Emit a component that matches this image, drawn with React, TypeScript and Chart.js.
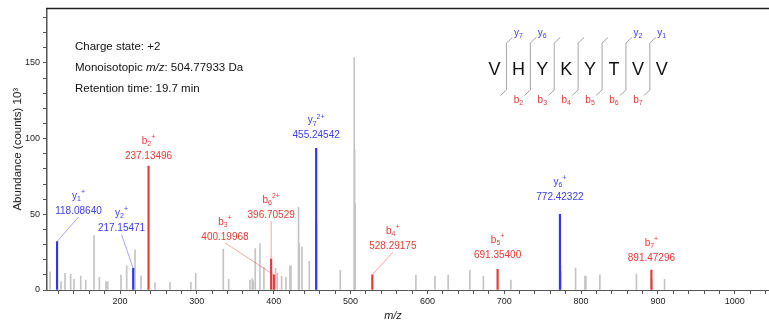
import React, { useEffect, useRef } from 'react';
import { Chart, registerables } from 'chart.js';

Chart.register(...registerables);

// ---------- DATA ----------
const greyMz = [
  109, 123.3, 128.4, 135.8, 140.2, 148.9, 155.4, 166.2, 173.1, 181.8, 184,
  201.3, 208.7, 219.5, 227.3, 245.5, 265, 292.2, 298.5, 334.4, 341.4, 369.1,
  372.1, 373.4, 376, 382.1, 387.3, 402.5, 404.7, 410.3, 415.9, 421.1, 422.4,
  432.3, 433.3, 436.8, 446.3, 455.75, 486.6, 504.78, 505.28, 505.78, 585,
  609.8, 627, 655.3, 672.8, 708.6, 773.3, 773.8, 792.8, 805, 806.2, 824.4,
  872, 892, 908.6,
];
const greyAbundance = [
  12, 5.5, 11, 10.5, 7, 9.2, 6.6, 36, 8.3, 5.5, 5.5,
  9.9, 16, 26.3, 9.4, 4.8, 5, 5, 11, 27, 7.2, 6.6,
  7.5, 6, 27.4, 30.7, 15, 14.3, 11, 9, 8.3, 16, 16,
  54.6, 30.7, 28.3, 19, 44, 13, 153.5, 93, 57, 9.9,
  9.2, 9.9, 13, 9, 6.6, 16.4, 12, 14.5, 9.2, 9, 10,
  10.5, 7, 7,
];

const bIonMz = [237.13496, 396.70529, 400.19968, 528.29175, 691.354, 891.47296];
const bIonAbundance = [81.8, 20.5, 10, 10, 13.6, 13.2];
const bIonIndex = ['2', '6', '3', '4', '5', '7'];
const bIonCharge = ['+', '2+', '+', '+', '+', '+'];

const yIonMz = [118.0864, 217.15471, 455.24542, 772.42322];
const yIonAbundance = [32, 14.3, 93.6, 50];
const yIonIndex = ['1', '2', '7', '6'];
const yIonCharge = ['+', '+', '2+', '+'];

const xTickStep = 20;
const xLabelStep = 100;
const yTickStep = 10;
const yLabelStep = 50;

const peptide = ['V', 'H', 'Y', 'K', 'Y', 'T', 'V', 'V'];
const observedY = [7, 6, 2, 1];
const observedB = [2, 3, 4, 5, 6, 7];

const infoLines = ['Charge state: +2', 'Monoisotopic |m/z|: 504.77933 Da', 'Retention time: 19.7 min'];

// ---------- LAYOUT (label anchors in data units, leader flags) ----------
const bLabelAt: [number, number][] = [[237.13, 88.4], [396.7, 49.3], [336.6, 35.1], [555, 28.9], [691.35, 23], [891.47, 21]];
const bLeader = [false, true, true, true, false, false];
const yLabelAt: [number, number][] = [[146.0, 52.2], [202, 40.6], [455.25, 102], [772.42, 61.2]];
const yLeader = [true, true, false, false];

const RED = '#e53b36';
const RED_LINE = '#e33a33';
const BLUE = '#3d3df2';
const BLUE_LINE = '#3434f0';
const GREY = '#c4c4c4';
const FONT = "'Liberation Sans', Arial, Helvetica, sans-serif";

function drawIonLabel(
  ctx: CanvasRenderingContext2D,
  cx: number,
  cy: number,
  base: string,
  sub: string,
  sup: string,
  value: string,
  color: string
) {
  ctx.save();
  ctx.fillStyle = color;
  ctx.textBaseline = 'middle';
  const f1 = `10px ${FONT}`;
  const f2 = `7px ${FONT}`;
  ctx.font = f1;
  const wb = ctx.measureText(base).width;
  ctx.font = f2;
  const ws = ctx.measureText(sub).width;
  const wp = ctx.measureText(sup).width;
  const total = wb + ws + wp;
  let x = cx - total / 2;
  const ny = cy - 15;
  ctx.textAlign = 'left';
  ctx.font = f1;
  ctx.fillText(base, x, ny);
  x += wb;
  ctx.font = f2;
  ctx.fillText(sub, x, ny + 3);
  x += ws;
  ctx.fillText(sup, x, ny - 4);
  ctx.font = f1;
  ctx.textAlign = 'center';
  ctx.fillText(value, cx, cy);
  ctx.restore();
}

const overlayPlugin = {
  id: 'overlay',
  afterDraw(chart: any) {
    const { ctx, chartArea, scales } = chart;
    const xs = scales.x;
    const ys = scales.y;

    ctx.save();
    // top border
    ctx.strokeStyle = '#222';
    ctx.lineWidth = 1.5;
    ctx.beginPath();
    ctx.moveTo(chartArea.left - 1, chartArea.top);
    ctx.lineTo(chartArea.right, chartArea.top);
    ctx.stroke();

    // info text
    ctx.fillStyle = '#111';
    ctx.textBaseline = 'middle';
    ctx.textAlign = 'left';
    infoLines.forEach((line, i) => {
      const parts = line.split('|');
      let x = 75;
      const y = 47 + i * 21;
      parts.forEach((p, k) => {
        ctx.font = (k % 2 === 1 ? 'italic ' : '') + `11.5px ${FONT}`;
        ctx.fillText(p, x, y);
        x += ctx.measureText(p).width;
      });
    });

    // peptide diagram
    const px0 = 494.5;
    const pdx = 23.9;
    const py = 69;
    ctx.font = `18px ${FONT}`;
    ctx.textAlign = 'center';
    ctx.fillStyle = '#111';
    peptide.forEach((aa, i) => {
      ctx.fillText(aa, px0 + i * pdx, py + 1);
    });
    ctx.strokeStyle = '#9a9a9a';
    ctx.lineWidth = 0.9;
    for (let i = 0; i < peptide.length - 1; i++) {
      const sx = px0 + (i + 0.5) * pdx;
      ctx.beginPath();
      ctx.moveTo(sx + 6, 37.5);
      ctx.lineTo(sx, 43);
      ctx.lineTo(sx, 90);
      ctx.lineTo(sx - 6, 95.5);
      ctx.stroke();
    }
    const drawFrag = (base: string, n: string, cx: number, cy: number, color: string) => {
      ctx.fillStyle = color;
      ctx.font = `10px ${FONT}`;
      const wb = ctx.measureText(base).width;
      ctx.font = `7px ${FONT}`;
      const wn = ctx.measureText(n).width;
      let x = cx - (wb + wn) / 2;
      ctx.textAlign = 'left';
      ctx.font = `10px ${FONT}`;
      ctx.fillText(base, x, cy);
      ctx.font = `7px ${FONT}`;
      ctx.fillText(n, x + wb, cy + 3);
    };
    observedY.forEach((n) => {
      const j = peptide.length - n;
      drawFrag('y', String(n), px0 + j * pdx, 33, BLUE);
    });
    observedB.forEach((n) => {
      const j = n - 1;
      drawFrag('b', String(n), px0 + j * pdx, 100.5, RED);
    });

    // ion labels
    const doLabels = (
      mzs: number[], ab: number[], idx: string[], ch: string[], at: [number, number][],
      lead: boolean[], base: string, color: string, lcolor: string
    ) => {
      mzs.forEach((mz, i) => {
        const cx = xs.getPixelForValue(at[i][0]);
        const cy = ys.getPixelForValue(at[i][1]);
        if (lead[i]) {
          ctx.save();
          ctx.strokeStyle = lcolor;
          ctx.lineWidth = 0.7;
          ctx.beginPath();
          ctx.moveTo(cx, cy + 6);
          ctx.lineTo(xs.getPixelForValue(mz), ys.getPixelForValue(ab[i]));
          ctx.stroke();
          ctx.restore();
        }
        drawIonLabel(ctx, cx, cy, base, idx[i], ch[i], mz.toFixed(5), color);
      });
    };
    doLabels(bIonMz, bIonAbundance, bIonIndex, bIonCharge, bLabelAt, bLeader, 'b', RED, 'rgba(229,59,54,0.65)');
    doLabels(yIonMz, yIonAbundance, yIonIndex, yIonCharge, yLabelAt, yLeader, 'y', BLUE, 'rgba(61,61,242,0.65)');

    // axis titles
    ctx.fillStyle = '#222';
    ctx.textAlign = 'center';
    ctx.textBaseline = 'middle';
    ctx.font = `italic 11px ${FONT}`;
    ctx.fillText('m/z', 393, 316);
    ctx.save();
    ctx.translate(18, (chartArea.top + chartArea.bottom) / 2);
    ctx.rotate(-Math.PI / 2);
    ctx.font = `11.5px ${FONT}`;
    ctx.fillText('Abundance (counts) 10³', 0, 0);
    ctx.restore();

    ctx.restore();
  },
};

export default function App() {
  const ref = useRef<HTMLCanvasElement | null>(null);

  useEffect(() => {
    document.body.style.margin = '0';
    if (!ref.current) return;
    const toXY = (xs: number[], ys: number[]) => xs.map((x, i) => ({ x, y: ys[i] }));
    const chart = new Chart(ref.current, {
      type: 'bar',
      data: {
        datasets: [
          {
            label: 'y ions',
            data: toXY(yIonMz, yIonAbundance),
            backgroundColor: BLUE_LINE,
            barThickness: 1.5,
            grouped: false,
            order: 0,
          } as any,
          {
            label: 'b ions',
            data: toXY(bIonMz, bIonAbundance),
            backgroundColor: RED_LINE,
            barThickness: 1.5,
            grouped: false,
            order: 0,
          } as any,
          {
            label: 'other',
            data: toXY(greyMz, greyAbundance),
            backgroundColor: GREY,
            barThickness: 1,
            grouped: false,
            order: 1,
          } as any,
        ],
      },
      options: {
        animation: false,
        responsive: false,
        devicePixelRatio: 1,
        layout: { padding: { top: 7, right: 0, left: 0, bottom: 0 } },
        plugins: { legend: { display: false }, tooltip: { enabled: false } },
        scales: {
          x: {
            type: 'linear',
            min: 105,
            max: 1044.5,
            offset: false,
            grid: { display: true, offset: false, drawOnChartArea: false, drawTicks: true, tickLength: 4, color: '#555' },
            border: { display: true, color: '#555', width: 1 },
            ticks: {
              stepSize: xTickStep,
              includeBounds: false,
              autoSkip: false,
              maxRotation: 0,
              padding: 2,
              color: '#222',
              font: { size: 9, family: FONT },
              callback: (v: any) => (Number(v) % xLabelStep === 0 ? String(v) : ''),
            },
            afterFit: (s: any) => { s.height = 37; },
          },
          y: {
            type: 'linear',
            min: 0,
            max: 186,
            grid: { display: true, drawOnChartArea: false, drawTicks: true, tickLength: 4, color: '#555' },
            border: { display: true, color: '#555', width: 1.5 },
            ticks: {
              stepSize: yTickStep,
              includeBounds: false,
              autoSkip: false,
              padding: 3,
              color: '#222',
              font: { size: 9, family: FONT },
              callback: (v: any) => (Number(v) % yLabelStep === 0 ? String(v) : ''),
            },
            afterFit: (s: any) => { s.width = 47; },
          },
        },
      } as any,
      plugins: [overlayPlugin],
    });
    return () => chart.destroy();
  }, []);

  return <canvas ref={ref} width={769} height={327} style={{ display: 'block' }} />;
}
